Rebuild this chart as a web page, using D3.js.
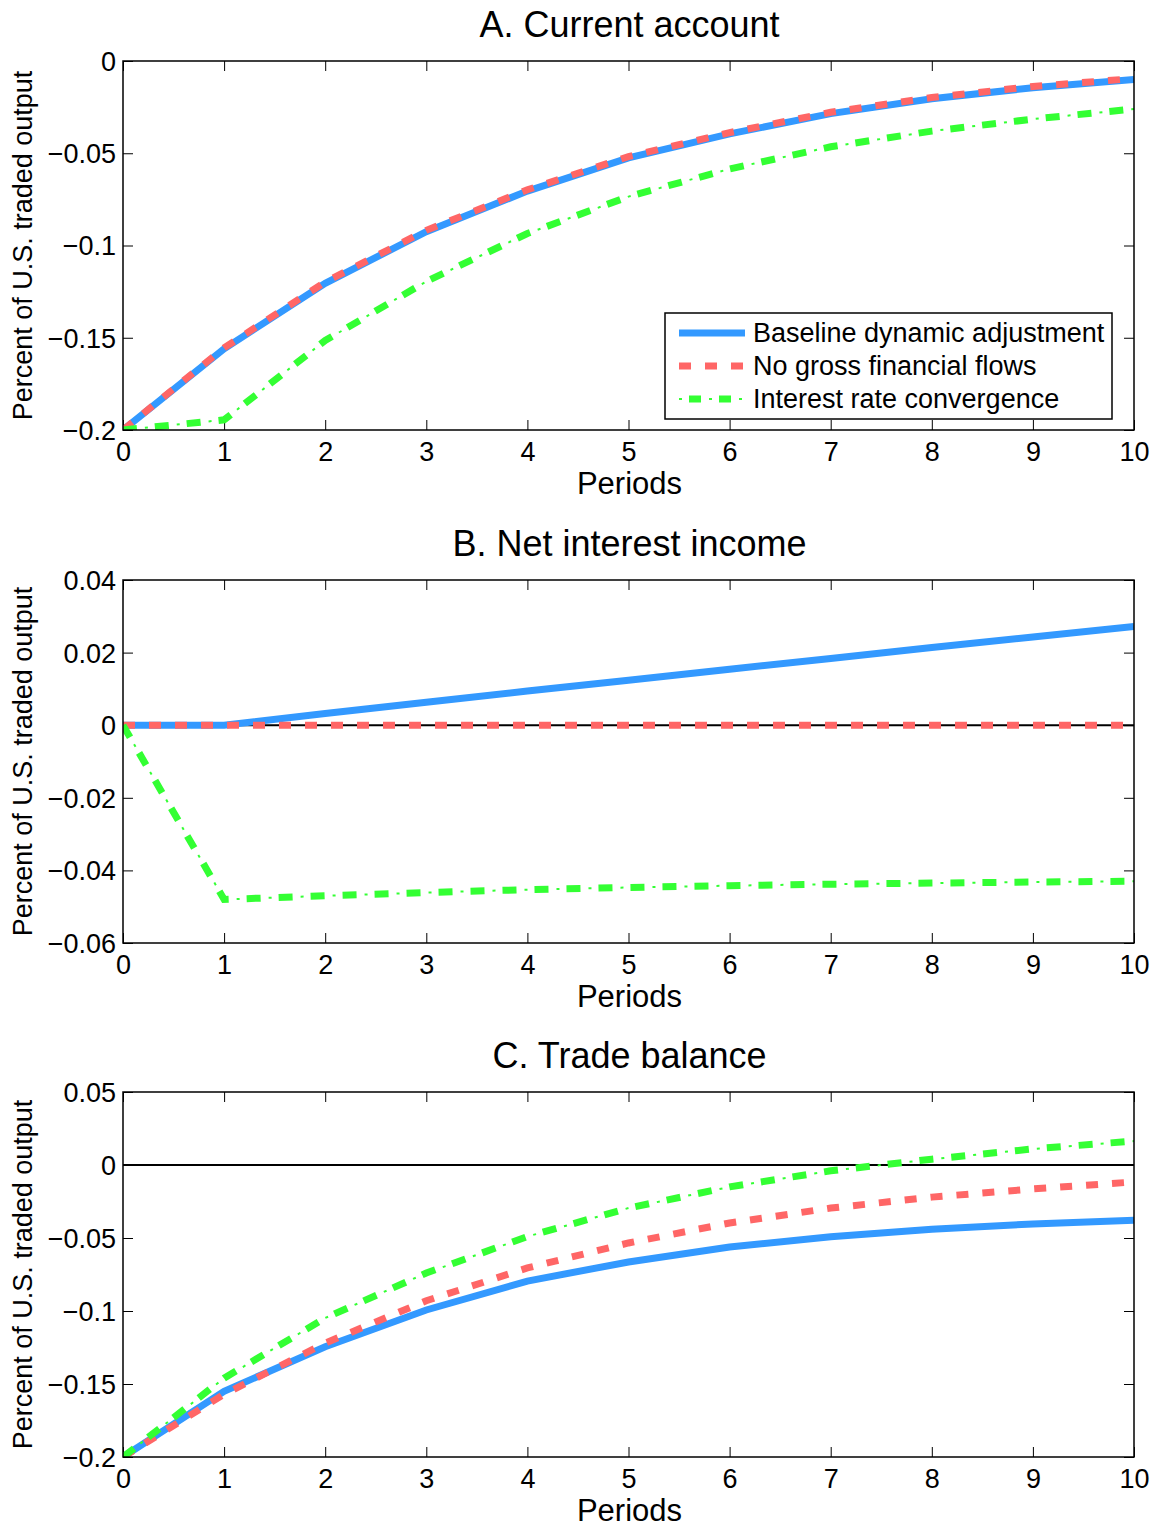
<!DOCTYPE html>
<html><head><meta charset="utf-8">
<script src="https://cdn.jsdelivr.net/npm/d3@7"></script>
<style>body{margin:0;background:#fff}svg{display:block}text{font-family:"Liberation Sans",Arial,sans-serif;fill:#000}</style>
</head><body>
<script>
const periods = [0,1,2,3,4,5,6,7,8,9,10];
const xTicks = [0,1,2,3,4,5,6,7,8,9,10];

// Panel A: Current account
const caBaseline = [-0.2,-0.156,-0.1205,-0.0925,-0.0705,-0.0525,-0.0395,-0.0285,-0.0205,-0.0145,-0.0100];
const caNoGross  = [-0.2,-0.1555,-0.1198,-0.0918,-0.0698,-0.0518,-0.0388,-0.0278,-0.0198,-0.0138,-0.0095];
const caInterest = [-0.2,-0.1945,-0.1515,-0.1195,-0.0935,-0.0735,-0.0585,-0.0465,-0.0380,-0.0315,-0.0260];
const caTicks = [0,-0.05,-0.1,-0.15,-0.2];
const caTickLabels = ["0","\u22120.05","\u22120.1","\u22120.15","\u22120.2"];

// Panel B: Net interest income
const niBaseline = [0,0,0.0032,0.0063,0.0094,0.0124,0.0154,0.0184,0.0214,0.0243,0.0272];
const niNoGross  = [0,0,0,0,0,0,0,0,0,0,0];
const niInterest = [0,-0.0480,-0.0470,-0.0461,-0.0453,-0.0447,-0.0442,-0.0438,-0.0435,-0.0432,-0.0430];
const niTicks = [0.04,0.02,0,-0.02,-0.04,-0.06];
const niTickLabels = ["0.04","0.02","0","\u22120.02","\u22120.04","\u22120.06"];

// Panel C: Trade balance
const tbBaseline = [-0.2,-0.155,-0.1245,-0.0993,-0.0795,-0.0664,-0.0562,-0.0492,-0.0440,-0.0404,-0.0378];
const tbNoGross  = [-0.2,-0.157,-0.122,-0.093,-0.0705,-0.0534,-0.0397,-0.0295,-0.0220,-0.0164,-0.0116];
const tbInterest = [-0.2,-0.146,-0.1048,-0.0740,-0.0490,-0.0295,-0.0150,-0.0040,0.0040,0.0110,0.0164];
const tbTicks = [0.05,0,-0.05,-0.1,-0.15,-0.2];
const tbTickLabels = ["0.05","0","\u22120.05","\u22120.1","\u22120.15","\u22120.2"];

const seriesNames = ["Baseline dynamic adjustment","No gross financial flows","Interest rate convergence"];
const colors = ["#3399ff","#ff6666","#33ff33"];

const W=1158,H=1528;
const svg=d3.select("body").append("svg").attr("width",W).attr("height",H);
const X0=123,X1=1134;

const panels=[
 {title:"A. Current account", top:61, bottom:430, dom:[-0.2,0], ticks:caTicks, labels:caTickLabels, data:[caBaseline,caNoGross,caInterest], zero:false, legend:true},
 {title:"B. Net interest income", top:580, bottom:943, dom:[-0.06,0.04], ticks:niTicks, labels:niTickLabels, data:[niBaseline,niNoGross,niInterest], zero:true, legend:false},
 {title:"C. Trade balance", top:1092, bottom:1457, dom:[-0.2,0.05], ticks:tbTicks, labels:tbTickLabels, data:[tbBaseline,tbNoGross,tbInterest], zero:true, legend:false}
];

function drawSeries(g, line, vals, i){
  if(i===0){
    g.append("path").attr("d",line(vals)).attr("fill","none").attr("stroke",colors[0]).attr("stroke-width",7);
  } else if(i===1){
    g.append("path").attr("d",line(vals)).attr("fill","none").attr("stroke",colors[1]).attr("stroke-width",7).attr("stroke-dasharray","12,14");
  } else {
    g.append("path").attr("d",line(vals)).attr("fill","none").attr("stroke",colors[2]).attr("stroke-width",7).attr("stroke-dasharray","14,18");
    g.append("path").attr("d",line(vals)).attr("fill","none").attr("stroke",colors[2]).attr("stroke-width",2).attr("stroke-dasharray","3,29").attr("stroke-dashoffset",-22);
  }
}

panels.forEach(p=>{
  const x=d3.scaleLinear().domain([0,10]).range([X0,X1]);
  const y=d3.scaleLinear().domain(p.dom).range([p.bottom,p.top]);
  const g=svg.append("g");
  const clipId="clip"+p.top;
  svg.append("clipPath").attr("id",clipId).append("rect").attr("x",X0).attr("y",p.top).attr("width",X1-X0).attr("height",p.bottom-p.top);

  const tl=10;
  const gx=g.append("g").attr("transform",`translate(0,${p.bottom})`)
    .call(d3.axisBottom(x).tickValues(xTicks).tickSize(-tl).tickFormat(d3.format("d")));
  const gxt=g.append("g").attr("transform",`translate(0,${p.top})`)
    .call(d3.axisTop(x).tickValues(xTicks).tickSize(-tl).tickFormat(""));
  const gy=g.append("g").attr("transform",`translate(${X0},0)`)
    .call(d3.axisLeft(y).tickValues(p.ticks).tickSize(-tl).tickFormat((d,i)=>p.labels[i]));
  const gyr=g.append("g").attr("transform",`translate(${X1},0)`)
    .call(d3.axisRight(y).tickValues(p.ticks).tickSize(-tl).tickFormat(""));
  [gx,gxt,gy,gyr].forEach(a=>{a.select(".domain").remove();a.selectAll("line").attr("stroke","#000").attr("stroke-width",1);});
  gx.selectAll("text").style("font-size","27px").attr("dy","0").attr("y",31);
  gy.selectAll("text").style("font-size","27px").attr("x",-7).attr("dy","0.35em");

  if(p.zero){
    g.append("line").attr("x1",X0).attr("x2",X1).attr("y1",y(0)).attr("y2",y(0)).attr("stroke","#000").attr("stroke-width",2);
  }

  const line=d3.line().x((d,i)=>x(periods[i])).y(d=>y(d));
  const lg=g.append("g").attr("clip-path",`url(#${clipId})`);
  p.data.forEach((vals,i)=>drawSeries(lg,line,vals,i));

  g.append("rect").attr("x",X0).attr("y",p.top).attr("width",X1-X0).attr("height",p.bottom-p.top)
    .attr("fill","none").attr("stroke","#000").attr("stroke-width",1.5);

  g.append("text").attr("x",(X0+X1)/2+1).attr("y",p.top-24).attr("text-anchor","middle").style("font-size","36px").text(p.title);
  g.append("text").attr("x",(X0+X1)/2+1).attr("y",p.bottom+64).attr("text-anchor","middle").style("font-size","31px").text("Periods");
  g.append("text").attr("transform",`translate(32,${(p.top+p.bottom)/2}) rotate(-90)`).attr("text-anchor","middle").style("font-size","27px").text("Percent of U.S. traded output");

  if(p.legend){
    const lx=665, ly=313, lw=447, lh=106;
    const leg=g.append("g");
    leg.append("rect").attr("x",lx).attr("y",ly).attr("width",lw).attr("height",lh).attr("fill","#fff").attr("stroke","#000").attr("stroke-width",1.5);
    seriesNames.forEach((n,i)=>{
      const yy=ly+20+i*33;
      const sl=d3.line()([[lx+14,yy],[lx+80,yy]]);
      if(i===0) leg.append("path").attr("d",sl).attr("stroke",colors[0]).attr("stroke-width",7);
      else if(i===1) leg.append("path").attr("d",sl).attr("stroke",colors[1]).attr("stroke-width",7).attr("stroke-dasharray","12,14");
      else {
        leg.append("path").attr("d",d3.line()([[lx+24,yy],[lx+80,yy]])).attr("stroke",colors[2]).attr("stroke-width",7).attr("stroke-dasharray","12,18");
        leg.append("path").attr("d",sl).attr("stroke",colors[2]).attr("stroke-width",2).attr("stroke-dasharray","3,27");
      }
      leg.append("text").attr("x",lx+88).attr("y",yy+9).style("font-size","27px").text(n);
    });
  }
});
</script>
</body></html>
